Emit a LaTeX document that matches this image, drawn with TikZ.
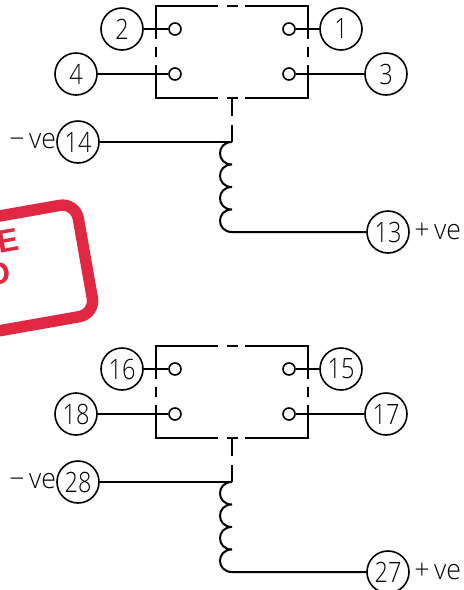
\documentclass[tikz,border=0pt]{standalone}
\usepackage{fontspec}
\setmainfont{Liberation Sans}
\newfontfamily\cadfont[UprightFont=* Light,FakeStretch=0.84]{Open Sans}
\newfontfamily\cadlab[UprightFont=* Light,FakeStretch=0.95]{Open Sans}
\newcommand{\relayblock}[9]{%
  \begin{scope}[yshift=#9]
    \node[term] (#1b) at (122,29) {#2};
    \node[term] (#1a) at (341,29) {#3};
    \node[term] (#1d) at (76,74) {#4};
    \node[term] (#1c) at (386,74) {#5};
    \node[contact] (#1cb) at (175,29) {};
    \node[contact] (#1ca) at (289,29) {};
    \node[contact] (#1cd) at (175,74) {};
    \node[contact] (#1cc) at (289,74) {};
    \draw[wire] (#1b) -- (#1cb);
    \draw[wire] (#1a) -- (#1ca);
    \draw[wire] (#1d) -- (#1cd);
    \draw[wire] (#1c) -- (#1cc);
    \draw[wire,line cap=butt] (156,39) -- (156,6) -- (218,6) (227,6) -- (238,6) (245,6) -- (307.5,6) -- (307.5,39)
      (307.5,47) -- (307.5,57) (307.5,65) -- (307.5,98) -- (245,98) (238,98) -- (227,98) (218,98) -- (156,98) -- (156,65)
      (156,57) -- (156,47);
    \draw[wire,line cap=butt] (232,98) -- (232,116) (232,125) -- (232,142);
    \coordinate (#1t0) at (232,142);
    \coordinate (#1t1) at (232,164.5);
    \coordinate (#1t2) at (232,187);
    \coordinate (#1t3) at (232,209.5);
    \coordinate (#1t4) at (232,232);
    \node[term] (#1n) at (78,142) {#6};
    \node[term] (#1p) at (388,232) {#7};
    \draw[wire] (#1n) -- (#1t0);
    \draw[wire] (#1t0) .. controls (216,142) and (216,164.5) .. (#1t1)
      .. controls (216,164.5) and (216,187) .. (#1t2)
      .. controls (216,187) and (216,209.5) .. (#1t3)
      .. controls (216,209.5) and (216,232) .. (#1t4) -- (#1p);
    \node[lab,anchor=base west] (#1m) at (9,148) {−\kern3.5pt ve};
    \node[lab,anchor=base west] (#1q) at (414,239) {+\kern3.5pt ve};
  \end{scope}}
\begin{document}
\begin{tikzpicture}[x=0.75pt,y=-0.75pt,
  wire/.style={line width=1.5pt,black},
  term/.style={circle,draw,line width=1.2pt,minimum size=31.5pt,inner sep=0pt,font=\cadfont\fontsize{21}{22}\selectfont},
  contact/.style={circle,draw,line width=1.2pt,minimum size=9pt,inner sep=0pt},
  lab/.style={inner sep=0pt,font=\cadlab\fontsize{21}{22}\selectfont},
  stampline/.style={line width=8.6pt,draw=stampred,rounded corners=12pt},
  stamptext/.style={text=stampred,font=\bfseries\fontsize{24}{26}\selectfont,inner sep=0pt}]
\definecolor{stampred}{HTML}{E02842}
\useasboundingbox (0,0) rectangle (464,590);
\clip (0,0) rectangle (464,590);
\begin{scope}[shift={(75.5,202.6)},rotate=10]
  \draw[stampline] (-300,0) -- (0,0) -- (0,113) -- (-300,113);
\end{scope}
\node[stamptext,rotate=10] (stampe) at (8,241) {E};
\node[stamptext,rotate=10] (stampd) at (-1,274) {D};
\relayblock{u}{2}{1}{4}{3}{14}{13}{}{0pt}
\relayblock{l}{16}{15}{18}{17}{28}{27}{}{-255pt}
\end{tikzpicture}
\end{document}
